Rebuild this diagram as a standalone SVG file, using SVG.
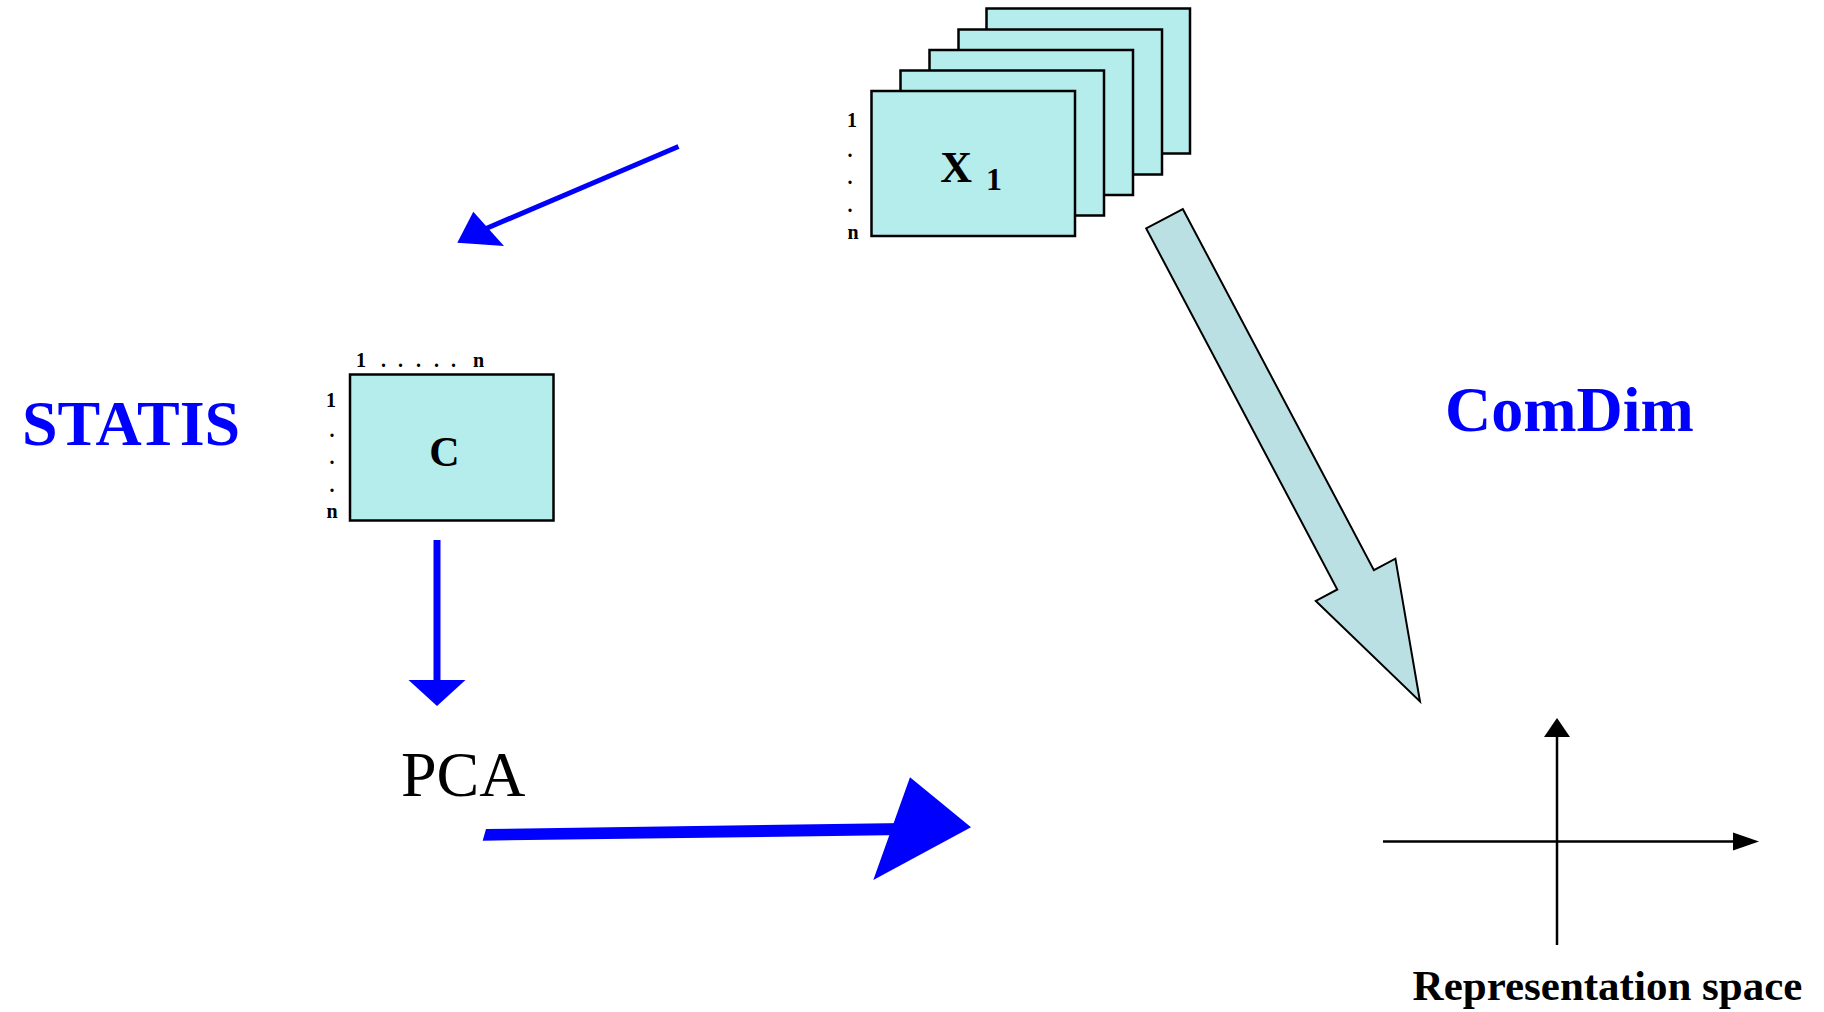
<svg xmlns="http://www.w3.org/2000/svg" width="1824" height="1012" viewBox="0 0 1824 1012">
<style>
.mat{fill:#B4EDEC;stroke:#000;stroke-width:2.5}
.lbl{font-family:"Liberation Serif",serif;font-weight:bold;font-size:20px;fill:#000}
.big{font-family:"Liberation Serif",serif;font-weight:bold;font-size:64px;fill:#0000FF}
.blue{fill:#0000FF}
.axis{stroke:#000;stroke-width:2.5;fill:none}
</style>
<rect width="1824" height="1012" fill="#fff"/>
<g id="node-X">
<rect class="mat" x="986.5" y="8.5" width="203.5" height="145"/>
<rect class="mat" x="958.5" y="29.5" width="203.5" height="145"/>
<rect class="mat" x="929.5" y="50" width="203.5" height="145"/>
<rect class="mat" x="900.5" y="70.5" width="203.5" height="145"/>
<rect class="mat" x="871.5" y="91" width="203.5" height="145"/>
<text x="972" y="182" text-anchor="end" font-family="Liberation Serif, serif" font-weight="bold" font-size="44">X</text>
<text x="986" y="190" font-family="Liberation Serif, serif" font-weight="bold" font-size="32">1</text>
<text class="lbl" x="852" y="127" text-anchor="middle">1</text>
<text class="lbl" x="850" y="157" text-anchor="middle">.</text>
<text class="lbl" x="850" y="184" text-anchor="middle">.</text>
<text class="lbl" x="850" y="212" text-anchor="middle">.</text>
<text class="lbl" x="853" y="239" text-anchor="middle">n</text>
</g>
<g id="node-C">
<rect class="mat" x="350" y="374.5" width="203.5" height="146"/>
<text x="444.5" y="466" text-anchor="middle" font-family="Liberation Serif, serif" font-weight="bold" font-size="42">C</text>
<text class="lbl" x="356 367 381 391 398 408 416 426 434 444 451 461 473" y="367">1 . . . . . n</text>
<text class="lbl" x="331" y="407" text-anchor="middle">1</text>
<text class="lbl" x="332" y="437" text-anchor="middle">.</text>
<text class="lbl" x="332" y="464" text-anchor="middle">.</text>
<text class="lbl" x="332" y="492" text-anchor="middle">.</text>
<text class="lbl" x="332" y="518" text-anchor="middle">n</text>
</g>
<g id="node-STATIS">
<text class="big" x="22" y="445">STATIS</text>
</g>
<g id="node-ComDim">
<text class="big" x="1445" y="431" font-size="63">ComDim</text>
</g>
<g id="node-PCA">
<text x="401" y="796" font-family="Liberation Serif, serif" font-size="64" fill="#000">PCA</text>
</g>
<g id="node-space">
<line class="axis" x1="1383" y1="841.5" x2="1736" y2="841.5"/>
<polygon points="1733,832.5 1759,841.5 1733,850.5" fill="#000"/>
<line class="axis" x1="1557" y1="945" x2="1557" y2="735"/>
<polygon points="1544,737 1557,718 1570,737" fill="#000"/>
<text x="1607.5" y="1000" text-anchor="middle" font-family="Liberation Serif, serif" font-weight="bold" font-size="43" fill="#000">Representation space</text>
</g>
<g id="connectors">
<line x1="678.5" y1="146.5" x2="485" y2="229" stroke="#0000FF" stroke-width="5"/>
<polygon class="blue" points="473.3,211.7 457.3,242.7 504,246"/>
<line x1="437" y1="540" x2="437" y2="682" stroke="#0000FF" stroke-width="7"/>
<polygon class="blue" points="408.5,680 465.5,680 437,706"/>
<polygon class="blue" points="486,829 905,823 905,835 482.7,840.7"/>
<polygon class="blue" points="910,777.3 971,827.3 873.3,880"/>
<polygon points="1182.8,209 1373.9,570.1 1395.4,558.7 1420,701.5 1315.8,600.9 1337.3,589.5 1146.2,228.4" fill="#BBE0E3" stroke="#000" stroke-width="2"/>
</g>
</svg>
